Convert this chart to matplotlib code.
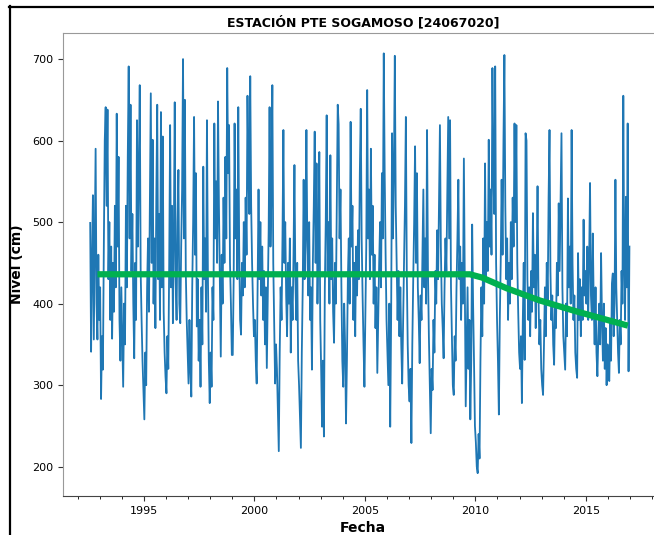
import numpy as np
import matplotlib
matplotlib.use('Agg')
import matplotlib.pyplot as plt
from matplotlib.lines import Line2D
from matplotlib.ticker import MultipleLocator, FormatStrFormatter

# ── Nivel (cm), valores leidos por año ──────────────────────────────────────
nivel_1992 = [499, 341, 450, 533, 356, 480, 590, 400, 356, 460, 380]
nivel_1993 = [420, 283, 360, 319, 470, 600, 641, 520, 638, 430, 500, 380,
              470, 357, 450, 390, 520, 420, 633, 470, 580, 380, 330, 420]
nivel_1994 = [360, 298, 400, 350, 520, 420, 580, 691, 480, 644, 440, 510,
              400, 333, 450, 380, 625, 470, 560, 668, 440, 380, 330, 294]
nivel_1995 = [258, 340, 300, 420, 480, 390, 520, 658, 450, 601, 400, 480,
              370, 530, 644, 430, 510, 380, 635, 420, 605, 390, 340, 310]
nivel_1996 = [290, 360, 320, 450, 619, 420, 520, 376, 480, 647, 430, 380,
              500, 564, 400, 376, 470, 540, 700, 480, 650, 440, 380, 340]
nivel_1997 = [302, 380, 320, 286, 420, 500, 629, 460, 560, 372, 430, 330,
              380, 298, 420, 350, 568, 430, 480, 390, 625, 440, 330, 278]
nivel_1998 = [340, 298, 420, 380, 621, 480, 550, 450, 648, 520, 430, 335,
              460, 400, 530, 450, 580, 480, 689, 560, 619, 450, 400, 337]
nivel_1999 = [337, 430, 621, 480, 540, 430, 641, 470, 380, 362, 450, 410,
              500, 420, 530, 460, 655, 560, 510, 679, 520, 450, 400, 360]
nivel_2000 = [380, 330, 302, 420, 540, 430, 500, 410, 470, 380, 440, 350,
              420, 321, 410, 490, 641, 470, 540, 668, 450, 380, 302, 350]
nivel_2001 = [320, 270, 219, 340, 420, 380, 480, 613, 450, 500, 410, 360,
              450, 400, 480, 340, 420, 380, 460, 570, 430, 380, 450, 330]
nivel_2002 = [300, 260, 223, 340, 420, 552, 430, 480, 613, 470, 410, 500,
              380, 420, 319, 450, 520, 611, 450, 572, 400, 480, 586, 380]
nivel_2003 = [320, 249, 330, 237, 420, 500, 631, 440, 500, 400, 582, 430,
              480, 390, 352, 450, 400, 520, 644, 620, 480, 540, 420, 330]
nivel_2004 = [298, 400, 350, 253, 330, 430, 480, 400, 623, 470, 520, 380,
              450, 360, 470, 410, 490, 430, 560, 639, 480, 410, 350, 298]
nivel_2005 = [380, 470, 662, 480, 540, 430, 590, 460, 520, 400, 460, 370,
              420, 315, 380, 450, 500, 420, 560, 480, 707, 560, 460, 380]
nivel_2006 = [340, 300, 400, 249, 380, 609, 480, 560, 704, 520, 450, 380,
              440, 360, 420, 350, 302, 380, 450, 520, 629, 440, 350, 300]
nivel_2007 = [280, 320, 229, 350, 430, 500, 593, 450, 560, 420, 380, 327,
              410, 380, 460, 540, 420, 480, 400, 613, 440, 360, 300, 241]
nivel_2008 = [320, 294, 380, 340, 440, 400, 490, 430, 520, 619, 470, 400,
              370, 333, 420, 480, 440, 540, 629, 480, 625, 420, 360, 300]
nivel_2009 = [288, 360, 330, 420, 480, 552, 430, 470, 380, 450, 400, 578,
              420, 274, 350, 420, 320, 380, 258, 330, 497, 400, 330, 250]
nivel_2010 = [230, 200, 192, 240, 210, 330, 420, 360, 480, 400, 572, 430,
              500, 440, 601, 470, 540, 460, 689, 560, 510, 691, 450, 380]
nivel_2011 = [330, 264, 380, 450, 552, 460, 600, 705, 520, 430, 480, 380,
              450, 400, 500, 430, 530, 470, 621, 500, 619, 450, 390, 340]
nivel_2012 = [320, 360, 278, 380, 450, 331, 609, 600, 430, 380, 420, 360,
              440, 390, 511, 420, 460, 370, 440, 544, 410, 350, 380, 320]
nivel_2013 = [300, 288, 350, 420, 360, 450, 400, 530, 613, 440, 380, 410,
              350, 325, 400, 370, 450, 410, 523, 440, 520, 609, 420, 360]
nivel_2014 = [340, 319, 400, 360, 529, 420, 470, 400, 613, 450, 380, 410,
              340, 320, 309, 462, 380, 430, 360, 420, 380, 503, 410, 440]
nivel_2015 = [400, 470, 380, 450, 548, 410, 380, 486, 400, 350, 420, 340,
              311, 360, 400, 350, 462, 380, 330, 400, 320, 370, 300, 350]
nivel_2016 = [310, 305, 380, 330, 425, 437, 360, 400, 552, 420, 380, 340,
              315, 380, 350, 440, 400, 655, 450, 380, 531, 420, 621, 317, 470]

# fracción del año cubierta (la serie empieza a mitad de 1992 y termina a fin de 2016)
inicio_1992 = 0.55
fin_2016 = 0.99

# ── Tendencia (línea verde) ─────────────────────────────────────────────────
tend_fecha = [1992.9, 2009.75, 2010.3, 2011.4, 2012.9, 2014.5, 2016.9]
tend_nivel = [436, 436, 432, 419, 404, 391, 373]


def fechas_anio(anio, n, ini=0.0, fin=1.0):
    return anio + ini + (np.arange(n) + 0.5) * (fin - ini) / n


series = {1992: nivel_1992, 1993: nivel_1993, 1994: nivel_1994, 1995: nivel_1995,
          1996: nivel_1996, 1997: nivel_1997, 1998: nivel_1998, 1999: nivel_1999,
          2000: nivel_2000, 2001: nivel_2001, 2002: nivel_2002, 2003: nivel_2003,
          2004: nivel_2004, 2005: nivel_2005, 2006: nivel_2006, 2007: nivel_2007,
          2008: nivel_2008, 2009: nivel_2009, 2010: nivel_2010, 2011: nivel_2011,
          2012: nivel_2012, 2013: nivel_2013, 2014: nivel_2014, 2015: nivel_2015,
          2016: nivel_2016}

fechas, niveles = [], []
for anio, vals in series.items():
    ini = inicio_1992 if anio == 1992 else 0.0
    fin = fin_2016 if anio == 2016 else 1.0
    fechas.extend(fechas_anio(anio, len(vals), ini, fin))
    niveles.extend(vals)

W, H = 654, 535
fig = plt.figure(figsize=(W / 100, H / 100), dpi=100)
ax = fig.add_axes([63 / W, 1 - 496 / H, 600 / W, 463 / H])

ax.plot(fechas, niveles, color="#1f77b4", lw=1.3)
ax.plot(tend_fecha, tend_nivel, color="#00b050", lw=4.5, solid_capstyle="butt")

ax.set_xlim(1991.34, 1991.34 + 600 / 22.1)
ax.set_ylim(164, 732)
ax.xaxis.set_major_locator(MultipleLocator(5))
ax.xaxis.set_minor_locator(MultipleLocator(1))
ax.xaxis.set_major_formatter(FormatStrFormatter("%d"))
ax.yaxis.set_major_locator(MultipleLocator(100))
ax.tick_params(labelsize=8, length=3.5, color="#333333")
ax.tick_params(which="minor", length=2)

for s in ["left", "top", "right"]:
    ax.spines[s].set_color("#999999")
ax.spines["bottom"].set_color("#444444")

ax.set_title("ESTACIÓN PTE SOGAMOSO [24067020]", fontsize=9, fontweight="bold", pad=5)
ax.set_xlabel("Fecha", fontsize=10, fontweight="bold", labelpad=4)
ax.set_ylabel("Nivel (cm)", fontsize=10, fontweight="bold", labelpad=6)

# marco negro de la captura
fig.add_artist(Line2D([9.5 / W, 9.5 / W], [0, 1 - 6 / H], color="black", lw=1.6,
                      transform=fig.transFigure))
fig.add_artist(Line2D([9 / W, 1], [1 - 6.5 / H, 1 - 6.5 / H], color="black", lw=1.6,
                      transform=fig.transFigure))

fig.savefig("out.png", dpi=100)
